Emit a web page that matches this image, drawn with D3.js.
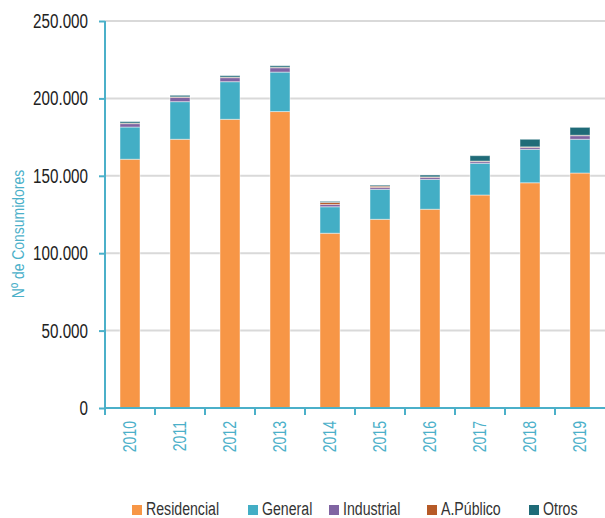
<!DOCTYPE html>
<html>
<head>
<meta charset="utf-8">
<script src="https://cdnjs.cloudflare.com/ajax/libs/d3/7.8.5/d3.min.js"></script>
<style>
  body { margin: 0; background: #fff; }
  svg text { font-family: "Liberation Sans", Arial, sans-serif; }
</style>
</head>
<body>
<svg id="chart" width="605" height="518"></svg>
<script>
var years = ["2010", "2011", "2012", "2013", "2014", "2015", "2016", "2017", "2018", "2019"];
var seriesNames = ["Residencial", "General", "Industrial", "A.Público", "Otros"];
var seriesColors = ["#f79646", "#43aec5", "#8064a2", "#b65a27", "#1f6b78"];
// values in number of consumers
var residencial = [160700, 173600, 186500, 191500, 112900, 121900, 128400, 137600, 145500, 151800];
var general     = [20800, 24300, 24300, 25500, 17100, 19400, 19300, 20500, 21600, 21800];
var industrial  = [2200, 2800, 2600, 2800, 1500, 1200, 1300, 1100, 1300, 2300];
var aPublico    = [300, 300, 300, 300, 1300, 800, 300, 300, 300, 300];
var otros       = [1000, 1000, 1000, 1000, 700, 700, 1200, 3500, 4900, 5100];
var yTicks = [0, 50000, 100000, 150000, 200000, 250000];

var svg = d3.select("#chart");
var axisColor = "#4bb0c9";

// narrow-font look: squeeze glyphs horizontally
function squeeze(sel, k) {
    sel.each(function() {
        var w = this.getComputedTextLength();
        d3.select(this).attr("textLength", w * k).attr("lengthAdjust", "spacingAndGlyphs");
    });
}

var rows = years.map(function(y, i) {
    return { year: y, "Residencial": residencial[i], "General": general[i], "Industrial": industrial[i],
             "A.Público": aPublico[i], "Otros": otros[i] };
});
var stacked = d3.stack().keys(seriesNames)(rows);

var x = d3.scaleBand().domain(years).range([105, 605]).paddingInner(0.6).paddingOuter(0.3);
var y = d3.scaleLinear().domain([0, 250000]).range([408, 21]);

var fmt = function(d) { return d3.format(",")(d).replace(/,/g, "."); };

// gridlines
svg.append("g").selectAll("line").data(yTicks.filter(function(d) { return d > 0; }))
    .enter().append("line")
    .attr("x1", 105).attr("x2", 605)
    .attr("y1", function(d) { return y(d); }).attr("y2", function(d) { return y(d); })
    .attr("stroke", "#d9d9d9").attr("stroke-width", 2);

// bars
svg.append("g").selectAll("g").data(stacked).enter().append("g")
    .attr("fill", function(d, i) { return seriesColors[i]; })
    .selectAll("rect").data(function(d) { return d; }).enter().append("rect")
    .attr("x", function(d) { return x(d.data.year); })
    .attr("width", x.bandwidth())
    .attr("y", function(d) { return y(d[1]); })
    .attr("height", function(d) { return y(d[0]) - y(d[1]); })
    .attr("stroke", "rgba(255,255,255,0.45)").attr("stroke-width", 1);

// y axis
var yAxis = svg.append("g").attr("transform", "translate(105,0)")
    .call(d3.axisLeft(y).tickValues(yTicks).tickFormat(fmt).tickSize(6).tickPadding(11));
yAxis.select(".domain").attr("stroke", axisColor).attr("stroke-width", 2).attr("d", "M0,408V21");
yAxis.selectAll(".tick line").attr("stroke", axisColor).attr("stroke-width", 2);
yAxis.selectAll(".tick text").attr("fill", "#222").style("font-size", "20px")
    .style("font-family", "'Liberation Sans', Arial, sans-serif").call(squeeze, 0.76);

// x axis with ticks on band boundaries
svg.append("line").attr("x1", 105).attr("x2", 605).attr("y1", 408).attr("y2", 408)
    .attr("stroke", axisColor).attr("stroke-width", 2);
var xb = d3.scaleLinear().domain([0, years.length]).range([105, 605]);
svg.append("g").selectAll("line").data(d3.range(years.length))
    .enter().append("line")
    .attr("x1", function(d) { return xb(d); }).attr("x2", function(d) { return xb(d); })
    .attr("y1", 408).attr("y2", 415)
    .attr("stroke", axisColor).attr("stroke-width", 2);
svg.append("g").selectAll("text").data(years).enter().append("text")
    .attr("transform", function(d) { return "translate(" + (x(d) + x.bandwidth() / 2) + ",421) rotate(-90)"; })
    .attr("text-anchor", "end").attr("dy", "0.35em")
    .attr("fill", axisColor).style("font-size", "18px")
    .text(function(d) { return d; })
    .call(squeeze, 0.78);

// y title
svg.append("text")
    .attr("transform", "translate(18,234) rotate(-90)")
    .attr("text-anchor", "middle").attr("dy", "0.35em")
    .attr("fill", axisColor).style("font-size", "17px")
    .text("Nº de Consumidores")
    .call(squeeze, 0.82);

// legend
var legendX = [132, 248, 329, 427, 529];
var legend = svg.append("g").selectAll("g").data(seriesNames).enter().append("g")
    .attr("transform", function(d, i) { return "translate(" + legendX[i] + ",505)"; });
legend.append("rect").attr("width", 10).attr("height", 10)
    .attr("fill", function(d, i) { return seriesColors[i]; });
legend.append("text").attr("x", 14).attr("y", 10)
    .attr("fill", "#333").style("font-size", "18px")
    .text(function(d) { return d; })
    .call(squeeze, 0.785);
</script>
</body>
</html>
